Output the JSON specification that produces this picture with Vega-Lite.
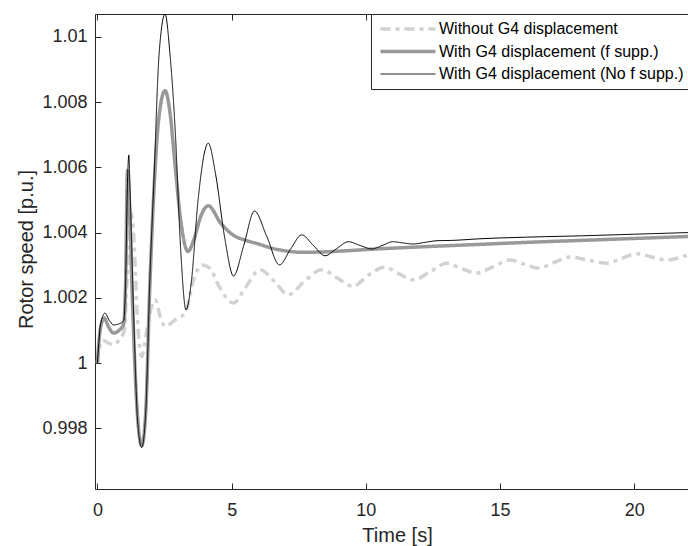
{
  "$schema": "https://vega.github.io/schema/vega-lite/v6.json",
  "width": 593,
  "height": 475,
  "autosize": {"type": "none"},
  "padding": {"left": 95, "top": 14, "right": 0, "bottom": 57},
  "background": "white",
  "config": {
    "font": "Liberation Sans",
    "view": {"stroke": "#262626", "strokeWidth": 1},
    "axis": {
      "grid": false,
      "domain": false,
      "tickSize": -6,
      "tickColor": "#262626",
      "labelColor": "#262626",
      "labelFont": "Liberation Sans",
      "labelFontSize": 18,
      "titleFont": "Liberation Sans",
      "titleFontSize": 20,
      "titleFontWeight": "normal",
      "titleColor": "#262626"
    },
    "legend": {
      "labelFont": "Liberation Sans",
      "labelFontSize": 16,
      "labelColor": "#000000",
      "labelLimit": 400
    }
  },
  "data": {
    "values": [
      {"t": 0, "v": 1.0, "s": "Without G4 displacement"},
      {"t": 0.05, "v": 1.0004, "s": "Without G4 displacement"},
      {"t": 0.2, "v": 1.0007, "s": "Without G4 displacement"},
      {"t": 0.4, "v": 1.00062, "s": "Without G4 displacement"},
      {"t": 0.6, "v": 1.00056, "s": "Without G4 displacement"},
      {"t": 0.8, "v": 1.0007, "s": "Without G4 displacement"},
      {"t": 1.0, "v": 1.001, "s": "Without G4 displacement"},
      {"t": 1.1, "v": 1.0025, "s": "Without G4 displacement"},
      {"t": 1.25, "v": 1.0046, "s": "Without G4 displacement"},
      {"t": 1.35, "v": 1.0039, "s": "Without G4 displacement"},
      {"t": 1.5, "v": 1.0012, "s": "Without G4 displacement"},
      {"t": 1.65, "v": 1.0002, "s": "Without G4 displacement"},
      {"t": 1.8, "v": 1.0008, "s": "Without G4 displacement"},
      {"t": 1.95, "v": 1.0015, "s": "Without G4 displacement"},
      {"t": 2.15, "v": 1.00194, "s": "Without G4 displacement"},
      {"t": 2.35, "v": 1.0014, "s": "Without G4 displacement"},
      {"t": 2.52, "v": 1.00112, "s": "Without G4 displacement"},
      {"t": 2.9, "v": 1.00133, "s": "Without G4 displacement"},
      {"t": 3.27, "v": 1.00154, "s": "Without G4 displacement"},
      {"t": 3.6, "v": 1.0026, "s": "Without G4 displacement"},
      {"t": 3.9, "v": 1.00301, "s": "Without G4 displacement"},
      {"t": 4.2, "v": 1.0029, "s": "Without G4 displacement"},
      {"t": 4.5, "v": 1.0024, "s": "Without G4 displacement"},
      {"t": 5.07, "v": 1.00184, "s": "Without G4 displacement"},
      {"t": 5.5, "v": 1.0023, "s": "Without G4 displacement"},
      {"t": 6.06, "v": 1.00286, "s": "Without G4 displacement"},
      {"t": 6.6, "v": 1.0025, "s": "Without G4 displacement"},
      {"t": 7.11, "v": 1.00209, "s": "Without G4 displacement"},
      {"t": 7.7, "v": 1.0025, "s": "Without G4 displacement"},
      {"t": 8.36, "v": 1.00286, "s": "Without G4 displacement"},
      {"t": 8.95, "v": 1.0026, "s": "Without G4 displacement"},
      {"t": 9.52, "v": 1.00235, "s": "Without G4 displacement"},
      {"t": 10.1, "v": 1.0027, "s": "Without G4 displacement"},
      {"t": 10.7, "v": 1.00294, "s": "Without G4 displacement"},
      {"t": 11.2, "v": 1.00275, "s": "Without G4 displacement"},
      {"t": 11.77, "v": 1.00255, "s": "Without G4 displacement"},
      {"t": 12.4, "v": 1.0028, "s": "Without G4 displacement"},
      {"t": 13.0, "v": 1.00306, "s": "Without G4 displacement"},
      {"t": 13.55, "v": 1.0029, "s": "Without G4 displacement"},
      {"t": 14.13, "v": 1.00276, "s": "Without G4 displacement"},
      {"t": 14.75, "v": 1.00296, "s": "Without G4 displacement"},
      {"t": 15.37, "v": 1.00316, "s": "Without G4 displacement"},
      {"t": 15.9, "v": 1.00303, "s": "Without G4 displacement"},
      {"t": 16.43, "v": 1.00291, "s": "Without G4 displacement"},
      {"t": 17.0, "v": 1.00308, "s": "Without G4 displacement"},
      {"t": 17.6, "v": 1.00325, "s": "Without G4 displacement"},
      {"t": 18.3, "v": 1.00315, "s": "Without G4 displacement"},
      {"t": 18.97, "v": 1.00306, "s": "Without G4 displacement"},
      {"t": 19.5, "v": 1.0032, "s": "Without G4 displacement"},
      {"t": 20.1, "v": 1.00335, "s": "Without G4 displacement"},
      {"t": 20.65, "v": 1.00325, "s": "Without G4 displacement"},
      {"t": 21.2, "v": 1.00316, "s": "Without G4 displacement"},
      {"t": 22.0, "v": 1.00332, "s": "Without G4 displacement"},

      {"t": 0, "v": 1.0, "s": "With G4 displacement (f supp.)"},
      {"t": 0.05, "v": 1.0006, "s": "With G4 displacement (f supp.)"},
      {"t": 0.12, "v": 1.0011, "s": "With G4 displacement (f supp.)"},
      {"t": 0.25, "v": 1.00138, "s": "With G4 displacement (f supp.)"},
      {"t": 0.42, "v": 1.0011, "s": "With G4 displacement (f supp.)"},
      {"t": 0.6, "v": 1.00092, "s": "With G4 displacement (f supp.)"},
      {"t": 0.8, "v": 1.001, "s": "With G4 displacement (f supp.)"},
      {"t": 0.98, "v": 1.0012, "s": "With G4 displacement (f supp.)"},
      {"t": 1.05, "v": 1.0025, "s": "With G4 displacement (f supp.)"},
      {"t": 1.12, "v": 1.0059, "s": "With G4 displacement (f supp.)"},
      {"t": 1.18, "v": 1.0052, "s": "With G4 displacement (f supp.)"},
      {"t": 1.3, "v": 1.002, "s": "With G4 displacement (f supp.)"},
      {"t": 1.5, "v": 0.9983, "s": "With G4 displacement (f supp.)"},
      {"t": 1.65, "v": 0.99747, "s": "With G4 displacement (f supp.)"},
      {"t": 1.8, "v": 0.9985, "s": "With G4 displacement (f supp.)"},
      {"t": 1.95, "v": 1.0023, "s": "With G4 displacement (f supp.)"},
      {"t": 2.1, "v": 1.0052, "s": "With G4 displacement (f supp.)"},
      {"t": 2.3, "v": 1.0076, "s": "With G4 displacement (f supp.)"},
      {"t": 2.52, "v": 1.00835, "s": "With G4 displacement (f supp.)"},
      {"t": 2.7, "v": 1.0077, "s": "With G4 displacement (f supp.)"},
      {"t": 2.9, "v": 1.006, "s": "With G4 displacement (f supp.)"},
      {"t": 3.1, "v": 1.0044, "s": "With G4 displacement (f supp.)"},
      {"t": 3.37, "v": 1.00342, "s": "With G4 displacement (f supp.)"},
      {"t": 3.6, "v": 1.0038, "s": "With G4 displacement (f supp.)"},
      {"t": 3.85, "v": 1.0045, "s": "With G4 displacement (f supp.)"},
      {"t": 4.13, "v": 1.00482, "s": "With G4 displacement (f supp.)"},
      {"t": 4.6, "v": 1.00428, "s": "With G4 displacement (f supp.)"},
      {"t": 5.1, "v": 1.0039, "s": "With G4 displacement (f supp.)"},
      {"t": 5.5, "v": 1.00377, "s": "With G4 displacement (f supp.)"},
      {"t": 6.0, "v": 1.00365, "s": "With G4 displacement (f supp.)"},
      {"t": 6.5, "v": 1.00352, "s": "With G4 displacement (f supp.)"},
      {"t": 7.0, "v": 1.00344, "s": "With G4 displacement (f supp.)"},
      {"t": 7.5, "v": 1.0034, "s": "With G4 displacement (f supp.)"},
      {"t": 8.0, "v": 1.0034, "s": "With G4 displacement (f supp.)"},
      {"t": 9.0, "v": 1.00343, "s": "With G4 displacement (f supp.)"},
      {"t": 10.0, "v": 1.00348, "s": "With G4 displacement (f supp.)"},
      {"t": 12.0, "v": 1.00356, "s": "With G4 displacement (f supp.)"},
      {"t": 14.0, "v": 1.00363, "s": "With G4 displacement (f supp.)"},
      {"t": 16.0, "v": 1.0037, "s": "With G4 displacement (f supp.)"},
      {"t": 18.0, "v": 1.00376, "s": "With G4 displacement (f supp.)"},
      {"t": 20.0, "v": 1.00382, "s": "With G4 displacement (f supp.)"},
      {"t": 22.0, "v": 1.00388, "s": "With G4 displacement (f supp.)"},

      {"t": 0, "v": 1.0, "s": "With G4 displacement (No f supp.)"},
      {"t": 0.05, "v": 1.0006, "s": "With G4 displacement (No f supp.)"},
      {"t": 0.12, "v": 1.0012, "s": "With G4 displacement (No f supp.)"},
      {"t": 0.28, "v": 1.00153, "s": "With G4 displacement (No f supp.)"},
      {"t": 0.45, "v": 1.0013, "s": "With G4 displacement (No f supp.)"},
      {"t": 0.6, "v": 1.00117, "s": "With G4 displacement (No f supp.)"},
      {"t": 0.8, "v": 1.0012, "s": "With G4 displacement (No f supp.)"},
      {"t": 0.98, "v": 1.0013, "s": "With G4 displacement (No f supp.)"},
      {"t": 1.05, "v": 1.0025, "s": "With G4 displacement (No f supp.)"},
      {"t": 1.12, "v": 1.0055, "s": "With G4 displacement (No f supp.)"},
      {"t": 1.17, "v": 1.00638, "s": "With G4 displacement (No f supp.)"},
      {"t": 1.22, "v": 1.0052, "s": "With G4 displacement (No f supp.)"},
      {"t": 1.35, "v": 1.0015, "s": "With G4 displacement (No f supp.)"},
      {"t": 1.5, "v": 0.9982, "s": "With G4 displacement (No f supp.)"},
      {"t": 1.65, "v": 0.99741, "s": "With G4 displacement (No f supp.)"},
      {"t": 1.8, "v": 0.9985, "s": "With G4 displacement (No f supp.)"},
      {"t": 1.95, "v": 1.0025, "s": "With G4 displacement (No f supp.)"},
      {"t": 2.1, "v": 1.0055, "s": "With G4 displacement (No f supp.)"},
      {"t": 2.3, "v": 1.0095, "s": "With G4 displacement (No f supp.)"},
      {"t": 2.52, "v": 1.0107, "s": "With G4 displacement (No f supp.)"},
      {"t": 2.7, "v": 1.0095, "s": "With G4 displacement (No f supp.)"},
      {"t": 2.9, "v": 1.0071, "s": "With G4 displacement (No f supp.)"},
      {"t": 3.1, "v": 1.0035, "s": "With G4 displacement (No f supp.)"},
      {"t": 3.3, "v": 1.00163, "s": "With G4 displacement (No f supp.)"},
      {"t": 3.5, "v": 1.0025, "s": "With G4 displacement (No f supp.)"},
      {"t": 3.75, "v": 1.005, "s": "With G4 displacement (No f supp.)"},
      {"t": 4.13, "v": 1.00674, "s": "With G4 displacement (No f supp.)"},
      {"t": 4.4, "v": 1.0058, "s": "With G4 displacement (No f supp.)"},
      {"t": 4.75, "v": 1.0038, "s": "With G4 displacement (No f supp.)"},
      {"t": 5.07, "v": 1.00267, "s": "With G4 displacement (No f supp.)"},
      {"t": 5.45, "v": 1.0036, "s": "With G4 displacement (No f supp.)"},
      {"t": 5.85, "v": 1.00466, "s": "With G4 displacement (No f supp.)"},
      {"t": 6.3, "v": 1.0039, "s": "With G4 displacement (No f supp.)"},
      {"t": 6.78, "v": 1.00301, "s": "With G4 displacement (No f supp.)"},
      {"t": 7.2, "v": 1.0035, "s": "With G4 displacement (No f supp.)"},
      {"t": 7.61, "v": 1.00393, "s": "With G4 displacement (No f supp.)"},
      {"t": 8.05, "v": 1.0036, "s": "With G4 displacement (No f supp.)"},
      {"t": 8.48, "v": 1.00329, "s": "With G4 displacement (No f supp.)"},
      {"t": 8.9, "v": 1.0035, "s": "With G4 displacement (No f supp.)"},
      {"t": 9.35, "v": 1.00372, "s": "With G4 displacement (No f supp.)"},
      {"t": 9.8, "v": 1.0036, "s": "With G4 displacement (No f supp.)"},
      {"t": 10.22, "v": 1.0035, "s": "With G4 displacement (No f supp.)"},
      {"t": 10.6, "v": 1.0036, "s": "With G4 displacement (No f supp.)"},
      {"t": 11.0, "v": 1.00372, "s": "With G4 displacement (No f supp.)"},
      {"t": 11.4, "v": 1.00368, "s": "With G4 displacement (No f supp.)"},
      {"t": 11.76, "v": 1.00365, "s": "With G4 displacement (No f supp.)"},
      {"t": 12.2, "v": 1.0037, "s": "With G4 displacement (No f supp.)"},
      {"t": 12.65, "v": 1.00375, "s": "With G4 displacement (No f supp.)"},
      {"t": 13.2, "v": 1.00376, "s": "With G4 displacement (No f supp.)"},
      {"t": 14.25, "v": 1.00381, "s": "With G4 displacement (No f supp.)"},
      {"t": 16.0, "v": 1.00386, "s": "With G4 displacement (No f supp.)"},
      {"t": 18.0, "v": 1.0039, "s": "With G4 displacement (No f supp.)"},
      {"t": 20.0, "v": 1.00395, "s": "With G4 displacement (No f supp.)"},
      {"t": 22.0, "v": 1.004, "s": "With G4 displacement (No f supp.)"}
    ]
  },
  "resolve": {"axis": {"x": "independent"}},
  "layer": [
    {
      "mark": {"type": "line", "interpolate": "monotone", "clip": true},
      "encoding": {
        "x": {
          "field": "t", "type": "quantitative",
          "scale": {"domain": [-0.09, 22.0], "nice": false, "zero": false},
          "axis": {"values": [0, 5, 10, 15, 20], "title": "Time [s]", "labelPadding": 18,
                   "titleX": 302, "titleY": 52, "titleBaseline": "alphabetic", "titleAlign": "center"}
        },
        "y": {
          "field": "v", "type": "quantitative",
          "scale": {"domain": [0.99614, 1.0107], "nice": false, "zero": false},
          "axis": {"values": [0.998, 1, 1.002, 1.004, 1.006, 1.008, 1.01], "format": "~g",
                   "title": "Rotor speed [p.u.]", "labelPadding": 14,
                   "titleX": -63, "titleY": 235, "titleBaseline": "alphabetic", "titleAlign": "center", "titleAngle": -90}
        },
        "color": {
          "field": "s", "type": "nominal", "sort": null,
          "scale": {"domain": ["Without G4 displacement", "With G4 displacement (f supp.)", "With G4 displacement (No f supp.)"],
                    "range": ["#d2d2d2", "#999999", "#000000"]},
          "legend": {"title": null, "orient": "none", "legendX": 276, "legendY": 0,
                     "strokeColor": "#262626", "fillColor": "#ffffff", "padding": 7,
                     "symbolType": "M-1,0H9", "symbolSize": 121, "rowPadding": 6.5, "labelOffset": 45}
        },
        "strokeDash": {
          "field": "s", "type": "nominal", "sort": null,
          "scale": {"domain": ["Without G4 displacement", "With G4 displacement (f supp.)", "With G4 displacement (No f supp.)"],
                    "range": [[10, 5, 4, 5], [1, 0], [1, 0]]},
          "legend": {"title": null}
        },
        "strokeWidth": {
          "field": "s", "type": "nominal", "sort": null,
          "scale": {"type": "ordinal", "domain": ["Without G4 displacement", "With G4 displacement (f supp.)", "With G4 displacement (No f supp.)"],
                    "range": [3.5, 3.5, 1]},
          "legend": {"title": null}
        }
      }
    },
    {
      "mark": {"type": "point", "opacity": 0},
      "encoding": {
        "x": {
          "field": "t", "type": "quantitative",
          "axis": {"orient": "top", "values": [0, 5, 10, 15, 20], "labels": false, "title": null}
        }
      }
    }
  ]
}
